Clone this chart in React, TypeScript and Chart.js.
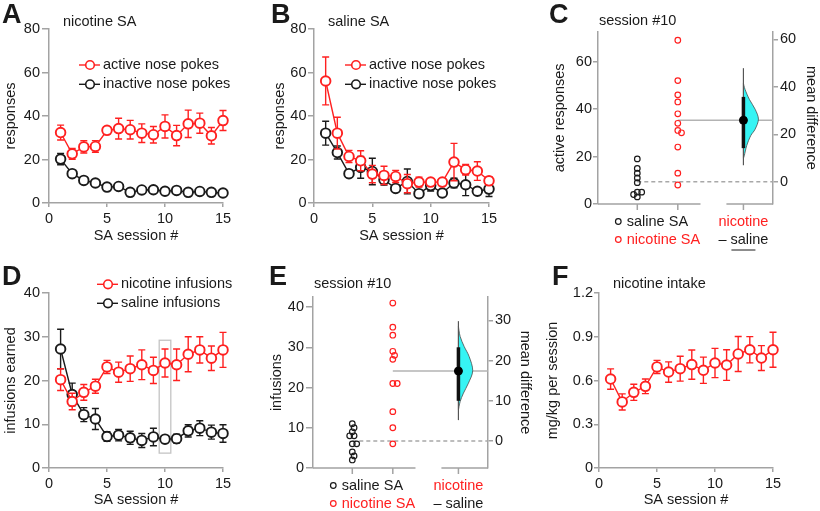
import React, { useEffect, useRef } from "react";
import { Chart, registerables } from "chart.js";

Chart.register(...registerables);

// ---------------- DATA ----------------
const sessions = [1, 2, 3, 4, 5, 6, 7, 8, 9, 10, 11, 12, 13, 14, 15];

// A: nicotine SA group, responses
const aActiveMean = [32.4, 22.6, 25.8, 26.0, 33.4, 34.2, 33.7, 32.1, 31.4, 35.2, 31.0, 36.4, 36.7, 30.9, 37.9];
const aActiveSem = [3.4, 2.5, 2.8, 2.7, 1.4, 4.8, 4.3, 4.3, 3.8, 5.3, 4.7, 6.3, 4.6, 3.8, 4.6];
const aInactiveMean = [20.2, 13.5, 10.4, 9.2, 7.3, 7.6, 4.9, 6.0, 6.1, 5.4, 5.8, 4.9, 5.3, 4.9, 4.6];
const aInactiveSem = [2.6, 1.0, 0.8, 0.8, 0.6, 1.5, 0.7, 0.8, 0.8, 0.7, 0.7, 0.6, 0.6, 0.6, 0.6];

// B: saline SA group, responses
const bActiveMean = [56.1, 32.1, 21.4, 19.4, 13.3, 12.7, 12.2, 8.9, 9.6, 9.6, 9.6, 18.8, 15.3, 14.7, 10.2];
const bActiveSem = [11.0, 7.3, 2.8, 4.6, 4.0, 4.2, 2.8, 4.2, 2.3, 1.5, 1.2, 8.6, 2.4, 4.3, 1.9];
const bInactiveMean = [32.1, 23.2, 13.5, 16.4, 14.5, 10.7, 6.7, 9.9, 4.3, 8.0, 4.6, 9.2, 8.4, 5.4, 6.4];
const bInactiveSem = [5.5, 3.0, 1.2, 5.0, 6.1, 2.5, 1.2, 5.7, 1.0, 2.5, 1.0, 2.2, 5.0, 1.2, 3.4];

// C: session #10 active responses
const cSalineActive = [19, 15, 13, 11, 9, 5, 5, 4, 3];
const cNicotineActive = [69, 52, 46, 43, 38, 34, 31, 30, 24, 13, 8];
const cDiffCI = [14.2, 35.8];
const cDiffRange = [7.0, 47.9];
const cViolinDiff = [10.0, 11.1, 15.3, 19.5, 22.2, 26.4, 30.6, 34.7, 38.9, 41.5];
const cViolinDensity = [0, 0.06, 0.22, 0.49, 0.78, 1.0, 0.78, 0.4, 0.11, 0];

// D: infusions earned
const dNicotineMean = [20.2, 15.2, 17.3, 18.7, 23.1, 21.9, 22.7, 23.6, 22.3, 24.0, 23.6, 26.0, 27.0, 25.1, 27.0];
const dNicotineSem = [2.5, 1.9, 1.8, 1.6, 1.5, 2.3, 2.9, 3.4, 3.0, 3.2, 3.6, 4.0, 3.0, 2.8, 4.0];
const dSalineMean = [27.2, 16.8, 12.2, 11.2, 7.2, 7.5, 6.9, 6.3, 7.1, 6.6, 6.7, 8.5, 9.1, 8.2, 7.9];
const dSalineSem = [4.5, 2.6, 1.6, 2.4, 1.1, 1.3, 1.5, 1.6, 2.0, 0.8, 1.0, 1.4, 1.7, 1.6, 2.0];
const dHighlightSession = 10;
const dHighlightSpan = [3.4, 29.2];

// E: session #10 infusions
const eSalineInf = [11, 10, 9, 8, 8, 6, 6, 4, 3, 2];
const eNicotineInf = [41, 35, 33, 29, 28, 27, 21, 21, 14, 10, 6];
const eDiffCI = [10.0, 23.3];
const eDiffRange = [5.2, 29.8];
const eViolinDiff = [7.7, 9.8, 11.9, 14.4, 17.5, 21.0, 23.5, 26.0, 28.5];
const eViolinDensity = [0, 0.12, 0.35, 0.7, 1.0, 0.75, 0.4, 0.12, 0];

// F: nicotine intake (mg/kg per session)
const fIntakeMean = [0.61, 0.453, 0.519, 0.56, 0.693, 0.658, 0.681, 0.709, 0.67, 0.72, 0.706, 0.782, 0.811, 0.754, 0.811];
const fIntakeSem = [0.07, 0.055, 0.055, 0.05, 0.045, 0.07, 0.085, 0.1, 0.09, 0.1, 0.105, 0.12, 0.09, 0.085, 0.12];

// tick labels / categories
const responseTicks = [0, 20, 40, 60, 80];
const infusionTicks = [0, 10, 20, 30, 40];
const intakeTicks = [0, 0.3, 0.6, 0.9, 1.2];
const sessionTicks = [0, 5, 10, 15];
const cLeftTicks = [0, 20, 40, 60];
const cRightTicks = [0, 20, 40, 60];
const eLeftTicks = [0, 10, 20, 30, 40];
const eRightTicks = [0, 10, 20, 30];
const estGroupLabels = ["saline SA", "nicotine SA"];
const estDiffLabels = ["nicotine", "\u2013 saline"];
const estCategories = { saline: 1, nicotine: 2, diff: 3.62 };

// ---------------- STYLE ----------------
const FONT = "'Liberation Sans', Arial, Helvetica, sans-serif";
const FS = 14.5;
const LH = FS * 1.2;
const RED = "#ff2020";
const BLACK = "#1a1a1a";
const AXIS = "#a3a3a3";
const CYAN = "#36f4f4";

Chart.defaults.font.family = FONT;
Chart.defaults.font.size = FS;
Chart.defaults.color = BLACK;

type Rect = { x: number; y: number; w: number; h: number };
type Area = { l: number; t: number; r: number; b: number };
type Geo = { cv: Rect; ca: Area; yTitleX: number; xTitleY?: number; y2TitleX?: number };

const geoA: Geo = { cv: { x: 0, y: 0, w: 262, h: 250 }, ca: { l: 49, t: 29, r: 223, b: 203 }, yTitleX: 11, xTitleY: 236 };
const geoB: Geo = { cv: { x: 262, y: 0, w: 278, h: 250 }, ca: { l: 314, t: 29, r: 489, b: 203 }, yTitleX: 280, xTitleY: 236 };
const geoC: Geo = { cv: { x: 540, y: 0, w: 280, h: 260 }, ca: { l: 598, t: 31.7, r: 773, b: 204 }, yTitleX: 560, y2TitleX: 811.3 };
const geoD: Geo = { cv: { x: 0, y: 250, w: 265, h: 261 }, ca: { l: 49, t: 293, r: 223, b: 468 }, yTitleX: 10.5, xTitleY: 500 };
const geoE: Geo = { cv: { x: 265, y: 250, w: 275, h: 261 }, ca: { l: 313, t: 297, r: 488, b: 468 }, yTitleX: 277, y2TitleX: 525 };
const geoF: Geo = { cv: { x: 540, y: 250, w: 280, h: 261 }, ca: { l: 599, t: 293, r: 773, b: 468 }, yTitleX: 553, xTitleY: 500 };

function layoutFor(g: Geo) {
  const padL = g.yTitleX - LH / 2 - g.cv.x;
  const yW = g.ca.l - g.cv.x - padL;
  const padT = g.ca.t - g.cv.y;
  let y2W = 0;
  let padR: number;
  if (g.y2TitleX != null) {
    y2W = g.y2TitleX + LH / 2 - g.ca.r;
    padR = g.cv.x + g.cv.w - (g.ca.r + y2W);
  } else {
    padR = g.cv.x + g.cv.w - g.ca.r;
  }
  const xH = g.xTitleY != null ? g.xTitleY + LH / 2 - g.ca.b : 0;
  const padB = g.cv.y + g.cv.h - g.ca.b - xH;
  return { padL, padT, padR: Math.max(0, padR), padB, yW, y2W, xH };
}

function axisStyle(tl: number, pad: number) {
  return {
    grid: { display: true, drawOnChartArea: false, drawTicks: true, tickLength: tl, color: AXIS, lineWidth: 1.5 },
    border: { display: true, color: AXIS, width: 1.5 },
    ticks: { padding: pad, color: BLACK, font: { size: FS, family: FONT }, maxRotation: 0, autoSkip: false },
  };
}

function text(ctx: CanvasRenderingContext2D, s: string, x: number, y: number, o: any = {}) {
  ctx.save();
  ctx.font = `${o.bold ? "bold " : ""}${o.size || FS}px ${FONT}`;
  ctx.fillStyle = o.color || BLACK;
  ctx.textAlign = o.align || "left";
  ctx.textBaseline = o.baseline || "middle";
  ctx.fillText(s, x, y);
  ctx.restore();
}

function drawLegend(ctx: CanvasRenderingContext2D, items: { label: string; color: string }[], x: number, y0: number, dy: number) {
  items.forEach((it, k) => {
    const y = y0 + k * dy;
    ctx.save();
    ctx.strokeStyle = it.color;
    ctx.lineWidth = 1.4;
    ctx.beginPath();
    ctx.moveTo(x, y);
    ctx.lineTo(x + 21, y);
    ctx.stroke();
    ctx.fillStyle = "#fff";
    ctx.lineWidth = 1.6;
    ctx.beginPath();
    ctx.arc(x + 11, y, 4.3, 0, Math.PI * 2);
    ctx.fill();
    ctx.stroke();
    ctx.restore();
    text(ctx, it.label, x + 24, y);
  });
}

const errorBarPlugin = {
  id: "errorBars",
  beforeDatasetDraw(chart: any, args: any) {
    const ds = chart.data.datasets[args.index];
    if (!ds.errors) return;
    const meta = args.meta;
    const ys = chart.scales[meta.yAxisID];
    const ctx = chart.ctx;
    ctx.save();
    ctx.strokeStyle = ds.borderColor;
    ctx.lineWidth = 1.4;
    meta.data.forEach((el: any, i: number) => {
      const v = ds.data[i].y;
      const e = ds.errors[i];
      const top = ys.getPixelForValue(v + e);
      const bot = ys.getPixelForValue(v - e);
      ctx.beginPath();
      ctx.moveTo(el.x, top);
      ctx.lineTo(el.x, bot);
      ctx.moveTo(el.x - 3.5, top);
      ctx.lineTo(el.x + 3.5, top);
      ctx.moveTo(el.x - 3.5, bot);
      ctx.lineTo(el.x + 3.5, bot);
      ctx.stroke();
    });
    ctx.restore();
  },
};

type Series = { label: string; color: string; means: number[]; errs: number[] };

function seriesChart(canvas: HTMLCanvasElement, g: Geo, cfg: any) {
  const L = layoutFor(g);
  const yAx = axisStyle(cfg.yTl, cfg.yPad);
  const xAx = axisStyle(4, 3);
  const datasets = cfg.series.map((s: Series) => ({
    type: "line",
    label: s.label,
    data: sessions.map((x, i) => ({ x, y: s.means[i] })),
    errors: s.errs,
    borderColor: s.color,
    borderWidth: 1.4,
    pointRadius: 4.8,
    pointBorderWidth: 1.9,
    pointBackgroundColor: "#ffffff",
    pointBorderColor: s.color,
    tension: 0,
    fill: false,
    clip: false,
  }));
  const decor = {
    id: "decor",
    beforeDatasetsDraw(chart: any) {
      if (cfg.before) cfg.before(chart, chart.ctx);
    },
    afterDraw(chart: any) {
      const ctx = chart.ctx;
      ctx.save();
      ctx.translate(-g.cv.x, -g.cv.y);
      cfg.after(chart, ctx);
      ctx.restore();
    },
  };
  return new Chart(canvas, {
    type: "line",
    data: { datasets },
    plugins: [errorBarPlugin, decor],
    options: {
      responsive: false,
      animation: false,
      events: [],
      layout: { padding: { left: L.padL, top: L.padT, right: L.padR, bottom: L.padB } },
      plugins: { legend: { display: false }, title: { display: false }, tooltip: { enabled: false } },
      scales: {
        x: {
          type: "linear",
          min: sessionTicks[0],
          max: sessionTicks[sessionTicks.length - 1],
          ...xAx,
          ticks: { ...xAx.ticks, stepSize: sessionTicks[1] - sessionTicks[0] },
          title: { display: true, text: "SA session #", color: BLACK, font: { size: FS, family: FONT }, padding: 0 },
          afterFit: (s: any) => { s.height = L.xH; },
        },
        y: {
          type: "linear",
          min: cfg.ticks[0],
          max: cfg.ticks[cfg.ticks.length - 1],
          ...yAx,
          afterBuildTicks: (s: any) => { s.ticks = cfg.ticks.map((v: number) => ({ value: v })); },
          title: { display: true, text: cfg.yTitle, color: BLACK, font: { size: FS, family: FONT }, padding: 0 },
          afterFit: (s: any) => { s.width = L.yW; },
        },
      },
    } as any,
  } as any);
}

function swarmOffsets(ys: number[], d: number): number[] {
  const order = ys.map((_, i) => i).sort((a, b) => ys[a] - ys[b]);
  const placed: { x: number; y: number }[] = [];
  const out = new Array(ys.length).fill(0);
  for (const i of order) {
    const y = ys[i];
    const cands = [0];
    for (const p of placed) {
      const dy = Math.abs(p.y - y);
      if (dy < d) {
        const dx = Math.sqrt(d * d - dy * dy);
        cands.push(p.x + dx, p.x - dx);
      }
    }
    cands.sort((a, b) => Math.abs(a) - Math.abs(b));
    let chosen = 0;
    for (const c of cands) {
      if (placed.every((p) => (p.x - c) ** 2 + (p.y - y) ** 2 >= d * d - 0.01)) { chosen = c; break; }
    }
    placed.push({ x: chosen, y });
    out[i] = chosen;
  }
  return out;
}

const mean = (a: number[]) => a.reduce((s, v) => s + v, 0) / a.length;

function smoothThrough(ctx: CanvasRenderingContext2D, pts: number[][]) {
  ctx.lineTo(pts[0][0], pts[0][1]);
  for (let i = 0; i < pts.length - 1; i++) {
    const p0 = pts[Math.max(i - 1, 0)], p1 = pts[i], p2 = pts[i + 1], p3 = pts[Math.min(i + 2, pts.length - 1)];
    ctx.bezierCurveTo(
      p1[0] + (p2[0] - p0[0]) / 6, p1[1] + (p2[1] - p0[1]) / 6,
      p2[0] - (p3[0] - p1[0]) / 6, p2[1] - (p3[1] - p1[1]) / 6,
      p2[0], p2[1]
    );
  }
}

function estimationChart(canvas: HTMLCanvasElement, g: Geo, cfg: any) {
  const L = layoutFor(g);
  const salMean = mean(cfg.saline);
  const nicMean = mean(cfg.nicotine);
  const yMax = cfg.yMax;
  const yAx = axisStyle(cfg.yTl, cfg.yPad);
  const y2Ax = axisStyle(5, 2);
  const xMin = 0.03, xMax = 4.35, segEnd = 2.56, segStart = 3.2;
  const datasets = [
    {
      label: "nicotine SA",
      data: cfg.nicotine.map((v: number) => ({ x: estCategories.nicotine, y: v })),
      swarm: true,
      pointRadius: 2.8,
      pointBorderWidth: 1.2,
      pointBorderColor: RED,
      pointBackgroundColor: "rgba(255,255,255,0)",
      borderColor: RED,
      yAxisID: "y",
    },
    {
      label: "saline SA",
      data: cfg.saline.map((v: number) => ({ x: estCategories.saline, y: v })),
      swarm: true,
      pointRadius: 2.8,
      pointBorderWidth: 1.2,
      pointBorderColor: BLACK,
      pointBackgroundColor: "rgba(255,255,255,0)",
      borderColor: BLACK,
      yAxisID: "y",
    },
    {
      label: "nicotine \u2013 saline",
      data: [{ x: estCategories.diff, y: nicMean - salMean }],
      pointRadius: 4,
      pointBorderWidth: 1,
      pointBorderColor: "#000",
      pointBackgroundColor: "#000",
      yAxisID: "y2",
    },
  ];
  const decor = {
    id: "estDecor",
    beforeDatasetsDraw(chart: any) {
      const ctx = chart.ctx;
      const xs = chart.scales.x, ys = chart.scales.y, y2 = chart.scales.y2;
      const ca = chart.chartArea;
      // swarm layout of raw points
      chart.data.datasets.forEach((ds: any, di: number) => {
        if (!ds.swarm) return;
        const meta = chart.getDatasetMeta(di);
        const pys = meta.data.map((el: any) => el.y);
        const off = swarmOffsets(pys, 4.4);
        meta.data.forEach((el: any, i: number) => { el.x = xs.getPixelForValue(ds.data[i].x) + off[i]; });
      });
      const sx = xs.getPixelForValue(estCategories.saline);
      const nx = xs.getPixelForValue(estCategories.nicotine);
      const dx = xs.getPixelForValue(estCategories.diff);
      ctx.save();
      // reference mean lines
      ctx.strokeStyle = "#a8a8a8";
      ctx.lineWidth = 1.5;
      ctx.setLineDash([4, 3]);
      ctx.beginPath();
      ctx.moveTo(sx, ys.getPixelForValue(salMean));
      ctx.lineTo(ca.right, ys.getPixelForValue(salMean));
      ctx.stroke();
      ctx.setLineDash([]);
      ctx.strokeStyle = "#b3b3b3";
      ctx.beginPath();
      ctx.moveTo(nx, ys.getPixelForValue(nicMean));
      ctx.lineTo(ca.right, ys.getPixelForValue(nicMean));
      ctx.stroke();
      // half violin (bootstrap distribution)
      const pts = cfg.violinDiff.map((v: number, i: number) => [dx + cfg.violinDensity[i] * cfg.violinW, y2.getPixelForValue(v)]);
      ctx.beginPath();
      ctx.moveTo(dx, pts[0][1]);
      smoothThrough(ctx, pts);
      ctx.lineTo(dx, pts[pts.length - 1][1]);
      ctx.closePath();
      ctx.fillStyle = CYAN;
      ctx.fill();
      ctx.strokeStyle = "#4a4a4a";
      ctx.lineWidth = 0.8;
      ctx.stroke();
      // CI lines
      ctx.strokeStyle = "#555";
      ctx.lineWidth = 1.2;
      ctx.beginPath();
      ctx.moveTo(dx, y2.getPixelForValue(cfg.range[0]));
      ctx.lineTo(dx, y2.getPixelForValue(cfg.range[1]));
      ctx.stroke();
      ctx.strokeStyle = "#111";
      ctx.lineWidth = 3.5;
      ctx.beginPath();
      ctx.moveTo(dx, y2.getPixelForValue(cfg.ci[0]));
      ctx.lineTo(dx, y2.getPixelForValue(cfg.ci[1]));
      ctx.stroke();
      ctx.restore();
    },
    afterDraw(chart: any) {
      const ctx = chart.ctx;
      const xs = chart.scales.x;
      const ca = chart.chartArea;
      const b = ca.bottom;
      const sx = xs.getPixelForValue(estCategories.saline);
      const nx = xs.getPixelForValue(estCategories.nicotine);
      const dx = xs.getPixelForValue(estCategories.diff);
      ctx.save();
      ctx.strokeStyle = AXIS;
      ctx.lineWidth = 1.5;
      ctx.beginPath();
      ctx.moveTo(xs.getPixelForValue(xMin), b);
      ctx.lineTo(xs.getPixelForValue(segEnd), b);
      ctx.moveTo(xs.getPixelForValue(segStart), b);
      ctx.lineTo(xs.getPixelForValue(xMax), b);
      for (const px of [sx, nx, dx]) {
        ctx.moveTo(px, b);
        ctx.lineTo(px, b + 6);
      }
      ctx.stroke();
      const r1 = b + 17.5, r2 = b + 35.5;
      ctx.lineWidth = 1.2;
      ctx.strokeStyle = BLACK;
      ctx.beginPath();
      ctx.arc(sx - 19, r1, 2.8, 0, Math.PI * 2);
      ctx.stroke();
      ctx.strokeStyle = RED;
      ctx.beginPath();
      ctx.arc(sx - 19, r2, 2.8, 0, Math.PI * 2);
      ctx.stroke();
      text(ctx, estGroupLabels[0], sx - 10.5, r1, { color: BLACK });
      text(ctx, estGroupLabels[1], sx - 10.5, r2, { color: RED });
      text(ctx, estDiffLabels[0], dx, r1, { color: RED, align: "center" });
      text(ctx, estDiffLabels[1], dx, r2, { color: BLACK, align: "center" });
      ctx.strokeStyle = BLACK;
      ctx.lineWidth = 1;
      ctx.beginPath();
      ctx.moveTo(dx - 12, b + 46);
      ctx.lineTo(dx + 12, b + 46);
      ctx.stroke();
      ctx.translate(-g.cv.x, -g.cv.y);
      cfg.after(ctx);
      ctx.restore();
    },
  };
  return new Chart(canvas, {
    type: "scatter",
    data: { datasets },
    plugins: [decor],
    options: {
      responsive: false,
      animation: false,
      events: [],
      layout: { padding: { left: L.padL, top: L.padT, right: L.padR, bottom: L.padB } },
      plugins: { legend: { display: false }, title: { display: false }, tooltip: { enabled: false } },
      elements: { point: { pointStyle: "circle" } },
      scales: {
        x: { type: "linear", display: false, min: xMin, max: xMax },
        y: {
          type: "linear",
          position: "left",
          min: 0,
          max: yMax,
          ...yAx,
          afterBuildTicks: (s: any) => { s.ticks = cfg.leftTicks.map((v: number) => ({ value: v })); },
          title: { display: true, text: cfg.yTitle, color: BLACK, font: { size: FS, family: FONT }, padding: 0 },
          afterFit: (s: any) => { s.width = L.yW; },
        },
        y2: {
          type: "linear",
          position: "right",
          min: -salMean,
          max: yMax - salMean,
          ...y2Ax,
          afterBuildTicks: (s: any) => { s.ticks = cfg.rightTicks.map((v: number) => ({ value: v })); },
          title: { display: true, text: "mean difference", color: BLACK, font: { size: FS, family: FONT }, padding: 0 },
          afterFit: (s: any) => { s.width = L.y2W; },
        },
      },
    } as any,
  } as any);
}

const letter = (ctx: CanvasRenderingContext2D, s: string, x: number, y: number) =>
  text(ctx, s, x, y, { bold: true, size: 27, baseline: "alphabetic" });

function buildAll(cs: HTMLCanvasElement[]) {
  const charts: Chart[] = [];
  charts.push(
    seriesChart(cs[0], geoA, {
      ticks: responseTicks, yTitle: "responses", yTl: 7, yPad: 2,
      series: [
        { label: "active nose pokes", color: RED, means: aActiveMean, errs: aActiveSem },
        { label: "inactive nose pokes", color: BLACK, means: aInactiveMean, errs: aInactiveSem },
      ],
      after: (chart: any, ctx: CanvasRenderingContext2D) => {
        letter(ctx, "A", 2, 23);
        text(ctx, "nicotine SA", 63, 21.7);
        drawLegend(ctx, [{ label: "active nose pokes", color: RED }, { label: "inactive nose pokes", color: BLACK }], 79, 65, 19.3);
      },
    })
  );
  charts.push(
    seriesChart(cs[1], geoB, {
      ticks: responseTicks, yTitle: "responses", yTl: 6, yPad: 1.5,
      series: [
        { label: "active nose pokes", color: RED, means: bActiveMean, errs: bActiveSem },
        { label: "inactive nose pokes", color: BLACK, means: bInactiveMean, errs: bInactiveSem },
      ],
      after: (chart: any, ctx: CanvasRenderingContext2D) => {
        letter(ctx, "B", 271, 23);
        text(ctx, "saline SA", 328, 21.7);
        drawLegend(ctx, [{ label: "active nose pokes", color: RED }, { label: "inactive nose pokes", color: BLACK }], 345, 65, 19.3);
      },
    })
  );
  charts.push(
    estimationChart(cs[2], geoC, {
      saline: cSalineActive, nicotine: cNicotineActive, ci: cDiffCI, range: cDiffRange,
      violinDiff: cViolinDiff, violinDensity: cViolinDensity, violinW: 15,
      yMax: 72.6, leftTicks: cLeftTicks, rightTicks: cRightTicks, yTitle: "active responses", yTl: 5, yPad: 1,
      after: (ctx: CanvasRenderingContext2D) => {
        letter(ctx, "C", 549, 23);
        text(ctx, "session #10", 599, 20.7);
      },
    })
  );
  charts.push(
    seriesChart(cs[3], geoD, {
      ticks: infusionTicks, yTitle: "infusions earned", yTl: 7, yPad: 2,
      series: [
        { label: "nicotine infusions", color: RED, means: dNicotineMean, errs: dNicotineSem },
        { label: "saline infusions", color: BLACK, means: dSalineMean, errs: dSalineSem },
      ],
      before: (chart: any, ctx: CanvasRenderingContext2D) => {
        const xs = chart.scales.x, ys = chart.scales.y;
        const x0 = xs.getPixelForValue(dHighlightSession - 0.5), x1 = xs.getPixelForValue(dHighlightSession + 0.5);
        const y0 = ys.getPixelForValue(dHighlightSpan[1]), y1 = ys.getPixelForValue(dHighlightSpan[0]);
        ctx.save();
        ctx.strokeStyle = "#c4c4c4";
        ctx.lineWidth = 1.3;
        ctx.strokeRect(x0, y0, x1 - x0, y1 - y0);
        ctx.restore();
      },
      after: (chart: any, ctx: CanvasRenderingContext2D) => {
        letter(ctx, "D", 2, 285);
        drawLegend(ctx, [{ label: "nicotine infusions", color: RED }, { label: "saline infusions", color: BLACK }], 97, 284.3, 19);
      },
    })
  );
  charts.push(
    estimationChart(cs[4], geoE, {
      saline: eSalineInf, nicotine: eNicotineInf, ci: eDiffCI, range: eDiffRange,
      violinDiff: eViolinDiff, violinDensity: eViolinDensity, violinW: 14.3,
      yMax: 42.5, leftTicks: eLeftTicks, rightTicks: eRightTicks, yTitle: "infusions", yTl: 7, yPad: 2,
      after: (ctx: CanvasRenderingContext2D) => {
        letter(ctx, "E", 269, 285);
        text(ctx, "session #10", 314, 284.3);
      },
    })
  );
  charts.push(
    seriesChart(cs[5], geoF, {
      ticks: intakeTicks, yTitle: "mg/kg per session", yTl: 5, yPad: 1,
      series: [{ label: "nicotine intake", color: RED, means: fIntakeMean, errs: fIntakeSem }],
      after: (chart: any, ctx: CanvasRenderingContext2D) => {
        letter(ctx, "F", 552, 285);
        text(ctx, "nicotine intake", 613, 284.3);
      },
    })
  );
  return charts;
}

const geos = [geoA, geoB, geoC, geoD, geoE, geoF];

export default function App() {
  const r0 = useRef<HTMLCanvasElement>(null);
  const r1 = useRef<HTMLCanvasElement>(null);
  const r2 = useRef<HTMLCanvasElement>(null);
  const r3 = useRef<HTMLCanvasElement>(null);
  const r4 = useRef<HTMLCanvasElement>(null);
  const r5 = useRef<HTMLCanvasElement>(null);
  const refs = [r0, r1, r2, r3, r4, r5];
  useEffect(() => {
    const cs = refs.map((r) => r.current as HTMLCanvasElement);
    const charts = buildAll(cs);
    return () => charts.forEach((c) => c.destroy());
  }, []);
  return (
    <div style={{ position: "absolute", left: 0, top: 0, width: 820, height: 511, background: "#ffffff", overflow: "hidden" }}>
      {geos.map((g, i) => (
        <canvas
          key={i}
          ref={refs[i]}
          width={g.cv.w}
          height={g.cv.h}
          style={{ position: "absolute", left: g.cv.x, top: g.cv.y, width: g.cv.w, height: g.cv.h }}
        />
      ))}
    </div>
  );
}
